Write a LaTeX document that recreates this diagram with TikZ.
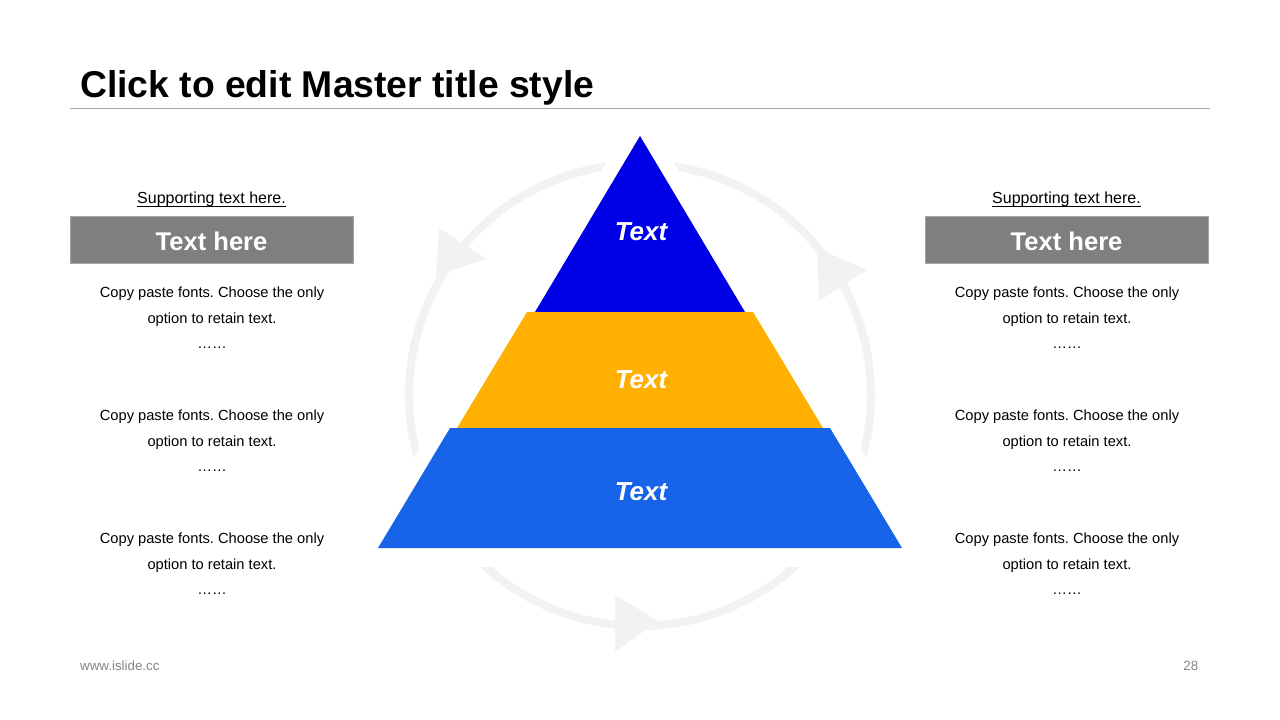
\documentclass[tikz,border=0pt]{standalone}
\usepackage{fontspec}
\setmainfont{Liberation Sans}
\frenchspacing
\definecolor{ringc}{HTML}{F1F2F4}
\definecolor{tierA}{HTML}{0000E6}
\definecolor{tierB}{HTML}{FFB000}
\definecolor{tierC}{HTML}{1864E9}
\definecolor{boxgray}{HTML}{7F7F7F}
\definecolor{boxedge}{HTML}{A5A5A5}
\definecolor{rulegray}{HTML}{A6A6A6}
\definecolor{footgray}{HTML}{858585}
\begin{document}
\frenchspacing
\begin{tikzpicture}[x=1pt,y=-1pt,
  ring/.style={draw=ringc, line width=8pt},
  arrowtip/.style={fill=ringc},
  tierlabel/.style={text=white, inner sep=0pt, anchor=base,
    font=\fontsize{26}{30}\selectfont\bfseries\itshape},
  titletext/.style={inner sep=0pt, anchor=base west,
    font=\fontsize{37.3}{44}\selectfont\bfseries},
  suptext/.style={inner sep=0pt, anchor=base,
    font=\fontsize{16}{19}\selectfont},
  headbox/.style={fill=boxgray, draw=boxedge, line width=0.8pt},
  headtext/.style={text=white, inner sep=0pt, anchor=base,
    font=\fontsize{25.6}{30}\selectfont\bfseries},
  bodytext/.style={inner sep=0pt, anchor=base,
    font=\fontsize{14.67}{18}\selectfont\frenchspacing},
  foottext/.style={inner sep=0pt, text=footgray,
    font=\fontsize{13.33}{16}\selectfont}
]
\useasboundingbox (0,0) rectangle (1280,720);
\fill[white] (0,0) rectangle (1280,720);

% title and rule
\node[titletext] (title) at (80,97) {Click to edit Master title style};
\coordinate (ruleL) at (70,108.3);
\coordinate (ruleR) at (1210,108.3);
\draw[rulegray, line width=1pt] (ruleL) -- (ruleR);

% cycle ring: side arcs cut along lines parallel to the pyramid
\begin{scope}[even odd rule]
  \clip (0,0) rectangle (1280,720)
    (640,111) -- (386,500) -- (894,500) -- cycle;
  \draw[ring] (640,395) ++(158:231) arc[start angle=158, end angle=275, radius=231];
  \draw[ring] (640,395) ++(265:231) arc[start angle=265, end angle=382, radius=231];
\end{scope}
\begin{scope}
  \clip (0,567) rectangle (1280,720);
  \draw[ring] (640,395) ++(20:231) arc[start angle=20, end angle=160, radius=231];
\end{scope}
\fill[arrowtip] (439,228) -- (487,259) -- (436,275) -- cycle;
\fill[arrowtip] (817,248) -- (867,270) -- (819,301) -- cycle;
\fill[arrowtip] (615,595) -- (658,621) -- (615,652) -- cycle;

% pyramid
\fill[tierA] (640,136) -- (745,312) -- (535,312) -- cycle;
\fill[tierB] (527,312) -- (753,312) -- (823,428) -- (457,428) -- cycle;
\fill[tierC] (450,428) -- (830,428) -- (902,548) -- (378,548) -- cycle;
\node[tierlabel] (labA) at (641,240.5) {Text};
\node[tierlabel] (labB) at (641,388) {Text};
\node[tierlabel] (labC) at (641,500) {Text};

% side panels
\foreach \side/\cx/\bx in {L/212/70, R/1067/925} {
  \node[suptext] (sup\side) at (\cx-0.5,203.5) {Supporting text here.};
  \draw[line width=1.1pt] ([yshift=-2.6pt]sup\side.base west) -- ([yshift=-2.6pt]sup\side.base east);
  \draw[headbox] (\bx,216.7) rectangle (\bx+283,263.3);
  \node[headtext] (head\side) at (\bx+141.5,250) {Text here};
  \foreach \g/\by in {1/297, 2/420, 3/543} {
    \node[bodytext] (body\side\g a) at (\cx,\by) {Copy paste fonts. Choose the only};
    \node[bodytext] (body\side\g b) at (\cx,\by+26) {option to retain text.};
    \node[bodytext] (body\side\g c) at (\cx,\by+51) {……};
  }
}

% footer
\node[foottext, anchor=base west] (site) at (80,670.7) {www.islide.cc};
\node[foottext, anchor=base east] (pagenum) at (1198.5,670.7) {28};
\end{tikzpicture}
\end{document}
